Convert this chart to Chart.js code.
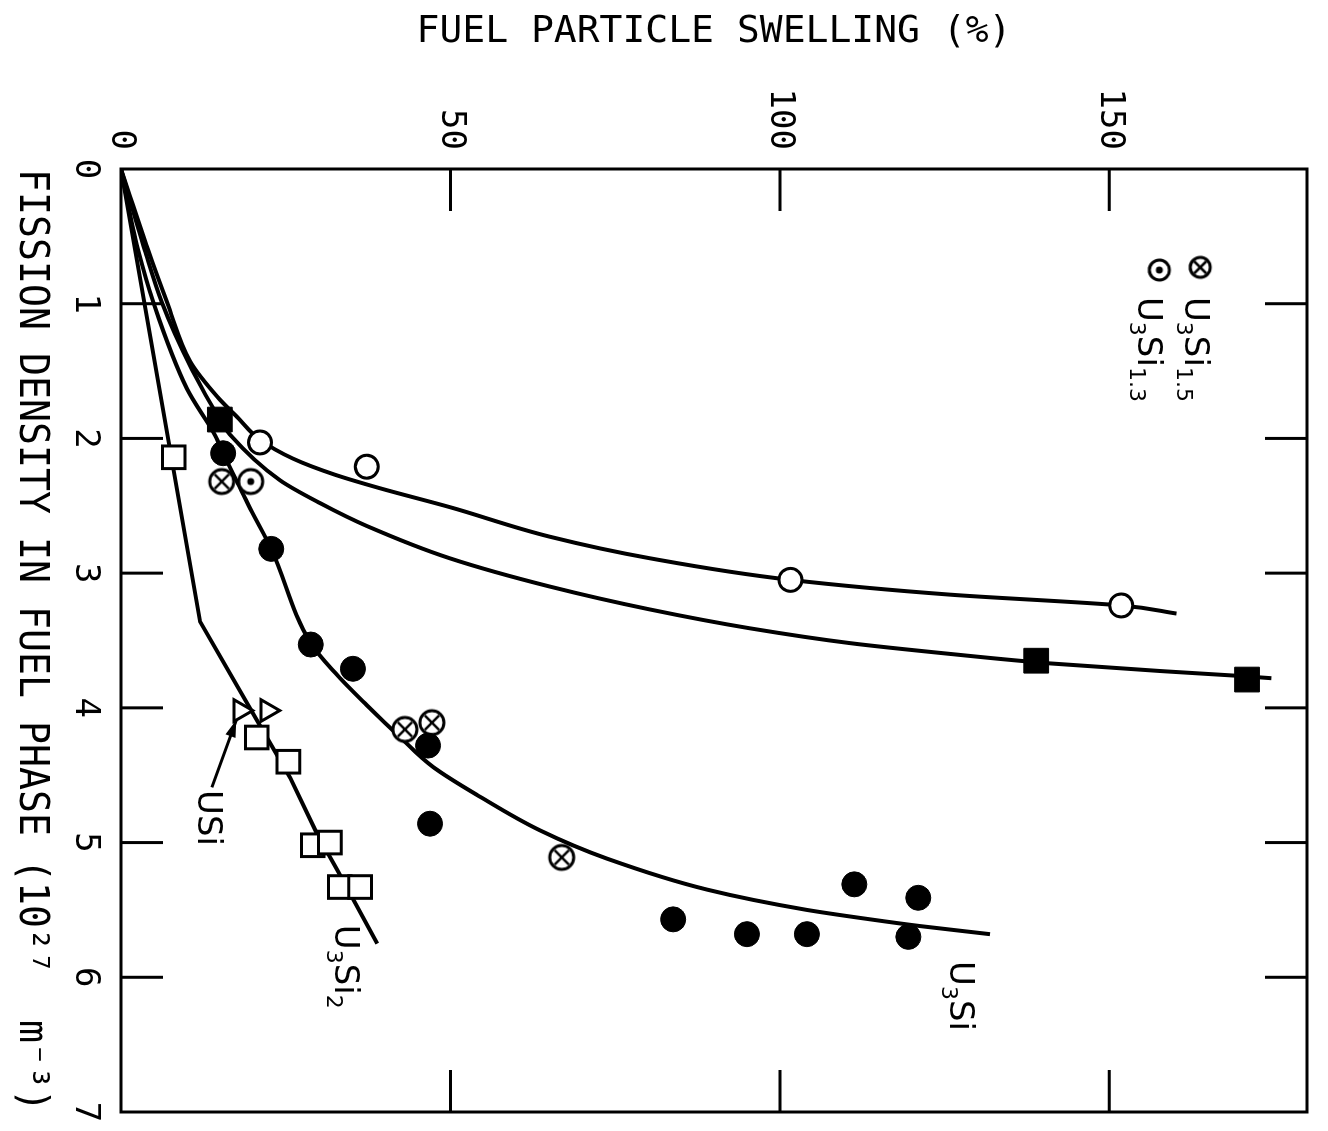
<!DOCTYPE html>
<html>
<head>
<meta charset="utf-8">
<title>Fuel particle swelling vs fission density</title>
<script src="https://cdn.jsdelivr.net/npm/chart.js@4.4.1/dist/chart.umd.min.js"></script>
<style>
  html, body { margin: 0; padding: 0; background: #fff; overflow: hidden; }
  #wrap { position: relative; width: 1328px; height: 1131px; overflow: hidden; background: #fff; }
  /* the figure is printed turned a quarter turn clockwise, so draw it upright and turn the canvas */
  #chart { position: absolute; left: 0; top: 0; transform-origin: 0 0; transform: translate(1328px, 0) rotate(90deg); }
</style>
</head>
<body>
<div id="wrap"><canvas id="chart" width="1131" height="1328"></canvas></div>
<script>
// values: fission density (10^27 m^-3) and swelling (%)
const u3siFission  = [2.11, 2.82, 3.53, 3.71, 4.28, 4.86, 5.57, 5.68, 5.68, 5.31, 5.41, 5.70];
const u3siSwelling = [15.5, 22.8, 28.8, 35.2, 46.6, 46.9, 83.8, 95.0, 104.1, 111.3, 121.0, 119.5];

const u3si15Fission  = [2.32, 4.16, 4.11, 5.11];
const u3si15Swelling = [15.3, 43.1, 47.2, 66.9];

const u3si13Fission  = [2.32];
const u3si13Swelling = [19.7];

const u3si2Fission  = [2.14, 4.22, 4.40, 5.02, 5.00, 5.33, 5.33];
const u3si2Swelling = [8.0, 20.6, 25.4, 29.1, 31.7, 33.2, 36.3];

const usiFission  = [4.02, 4.02];
const usiSwelling = [18.1, 22.2];

const openCircleFission  = [2.03, 2.21, 3.05, 3.24];
const openCircleSwelling = [21.1, 37.3, 101.6, 151.8];

const filledSquareFission  = [1.86, 3.65, 3.79];
const filledSquareSwelling = [15.0, 138.9, 170.9];

// hand drawn fit curves
const openCircleCurveF = [0, 0.60, 0.99, 1.43, 1.69, 1.84, 2.01, 2.15, 2.27, 2.37, 2.51, 2.73, 2.89, 3.05, 3.16, 3.24, 3.30];
const openCircleCurveS = [0, 4.1, 7.0, 10.5, 14.6, 17.6, 21.1, 26.1, 32.5, 39.3, 49.9, 65.1, 80.3, 101.6, 125.9, 151.8, 160.2];

const filledSquareCurveF = [0, 0.60, 0.99, 1.49, 1.86, 1.97, 2.31, 2.48, 2.65, 2.89, 3.10, 3.27, 3.41, 3.52, 3.60, 3.67, 3.73, 3.76, 3.78];
const filledSquareCurveS = [0, 3.6, 6.2, 10.8, 15.0, 16.5, 24.1, 30.2, 37.3, 49.9, 65.1, 80.3, 95.5, 110.7, 125.9, 141.0, 158.8, 168.8, 174.6];

const u3siCurveF = [0, 0.60, 0.99, 1.63, 1.98, 2.11, 2.37, 2.52, 2.82, 3.52, 3.74, 3.98, 4.22, 4.44, 4.66, 4.91, 5.12, 5.35, 5.50, 5.57, 5.62, 5.68];
const u3siCurveS = [0, 2.6, 4.9, 10.0, 14.3, 15.5, 18.1, 19.6, 22.8, 28.8, 32.5, 37.3, 42.4, 47.4, 54.5, 63.6, 73.8, 89.0, 104.1, 113.7, 121.3, 131.9];

const u3si2CurveF = [0, 3.36, 4.09, 4.52, 4.94, 5.20, 5.75];
const u3si2CurveS = [0, 12.0, 20.6, 25.7, 29.8, 32.8, 38.9];

// axes
const fissionTicks = [1, 2, 3, 4, 5, 6];
const swellingTicks = [50, 100, 150];
const fissionRange = [0, 7];
const swellingRange = [0, 180];

const BLACK = "#000";
const MONO = "'DejaVu Sans Mono', monospace";
const SANS = "'DejaVu Sans', sans-serif";

function pts(xs, ys) {
  return xs.map((x, i) => ({ x: x, y: ys[i] }));
}

// circle symbols with a cross or a dot inside
function ringSymbol(kind, r) {
  const c = document.createElement("canvas");
  const size = 2 * r + 6;
  c.width = c.height = size;
  const g = c.getContext("2d");
  const m = size / 2;
  g.lineWidth = 3;
  g.strokeStyle = BLACK;
  g.fillStyle = "#fff";
  g.beginPath();
  g.arc(m, m, r, 0, Math.PI * 2);
  g.fill();
  g.stroke();
  if (kind === "cross") {
    const d = r * 0.6;
    g.lineWidth = 2.5;
    g.beginPath();
    g.moveTo(m - d, m - d); g.lineTo(m + d, m + d);
    g.moveTo(m + d, m - d); g.lineTo(m - d, m + d);
    g.stroke();
  } else {
    g.fillStyle = BLACK;
    g.beginPath();
    g.arc(m, m, 3.5, 0, Math.PI * 2);
    g.fill();
  }
  return c;
}

const crossSym = ringSymbol("cross", 12);
const dotSym = ringSymbol("dot", 12);
const crossSymSmall = ringSymbol("cross", 10);
const dotSymSmall = ringSymbol("dot", 10);

function curve(label, xs, ys, smooth) {
  return {
    label: label,
    data: pts(xs, ys),
    showLine: true,
    pointRadius: 0,
    borderColor: BLACK,
    borderWidth: 4,
    cubicInterpolationMode: smooth ? "monotone" : "default",
    tension: 0,
    order: 10
  };
}

function marks(label, xs, ys, style, radius, filled) {
  return {
    label: label,
    data: pts(xs, ys),
    showLine: false,
    pointStyle: style,
    pointRadius: radius,
    pointBackgroundColor: filled ? BLACK : "#fff",
    pointBorderColor: BLACK,
    pointBorderWidth: filled ? 1 : 3,
    order: 1
  };
}

// text with subscripts, placed at a data position
function subText(ctx, x, y, f, s, parts) {
  let px = x.getPixelForValue(f);
  const py = y.getPixelForValue(s);
  parts.forEach(([t, sub]) => {
    ctx.font = (sub ? "22px " : "34px ") + SANS;
    ctx.fillText(t, px, sub ? py + 8 : py);
    px += ctx.measureText(t).width;
  });
}

// scales keep no extra room for their end labels, the layout padding sets the frame
function noEdgePadding(scale) {
  scale.paddingTop = 0;
  scale.paddingBottom = 0;
  scale.paddingLeft = 0;
  scale.paddingRight = 0;
}

const figureInk = {
  id: "figureInk",
  beforeDatasetsDraw(chart) {
    const { ctx, chartArea: a, scales: { x, y } } = chart;
    ctx.save();
    ctx.strokeStyle = BLACK;
    ctx.lineWidth = 3;
    ctx.strokeRect(a.left, a.top, a.right - a.left, a.bottom - a.top);
    ctx.beginPath();
    fissionTicks.forEach(v => {
      const px = x.getPixelForValue(v);
      ctx.moveTo(px, a.bottom); ctx.lineTo(px, a.bottom - 42);
      ctx.moveTo(px, a.top); ctx.lineTo(px, a.top + 42);
    });
    swellingTicks.forEach(v => {
      const py = y.getPixelForValue(v);
      ctx.moveTo(a.left, py); ctx.lineTo(a.left + 42, py);
      ctx.moveTo(a.right, py); ctx.lineTo(a.right - 42, py);
    });
    ctx.stroke();
    ctx.restore();
  },
  afterDatasetsDraw(chart) {
    const { ctx, scales: { x, y } } = chart;
    ctx.save();
    ctx.fillStyle = BLACK;
    ctx.strokeStyle = BLACK;
    ctx.textAlign = "left";
    ctx.textBaseline = "alphabetic";

    subText(ctx, x, y, 5.88, 125.8, [["U"], ["3", 1], ["Si"]]);
    subText(ctx, x, y, 5.61, 32.5, [["U"], ["3", 1], ["Si"], ["2", 1]]);
    subText(ctx, x, y, 4.61, 11.7, [["USi"]]);

    // arrow from the USi label to the triangles
    const tx = x.getPixelForValue(4.59), ty = y.getPixelForValue(13.8);
    const hx = x.getPixelForValue(4.09), hy = y.getPixelForValue(17.5);
    const ang = Math.atan2(hy - ty, hx - tx);
    ctx.lineWidth = 3;
    ctx.beginPath();
    ctx.moveTo(tx, ty);
    ctx.lineTo(hx, hy);
    ctx.stroke();
    ctx.beginPath();
    ctx.moveTo(hx, hy);
    ctx.lineTo(hx - 18 * Math.cos(ang - 0.3), hy - 18 * Math.sin(ang - 0.3));
    ctx.lineTo(hx - 18 * Math.cos(ang + 0.3), hy - 18 * Math.sin(ang + 0.3));
    ctx.closePath();
    ctx.fill();

    // key in the corner
    const k1x = x.getPixelForValue(0.73), k1y = y.getPixelForValue(163.8);
    ctx.drawImage(crossSymSmall, k1x - crossSymSmall.width / 2, k1y - crossSymSmall.height / 2);
    subText(ctx, x, y, 0.95, 161.5, [["U"], ["3", 1], ["Si"], ["1.5", 1]]);
    const k2x = x.getPixelForValue(0.75), k2y = y.getPixelForValue(157.6);
    ctx.drawImage(dotSymSmall, k2x - dotSymSmall.width / 2, k2y - dotSymSmall.height / 2);
    subText(ctx, x, y, 0.95, 154.4, [["U"], ["3", 1], ["Si"], ["1.3", 1]]);
    ctx.restore();
  }
};

Chart.defaults.font.family = MONO;
Chart.defaults.color = BLACK;

new Chart(document.getElementById("chart"), {
  type: "scatter",
  data: {
    datasets: [
      curve("U3Si2 fit", u3si2CurveF, u3si2CurveS, false),
      curve("U3Si fit", u3siCurveF, u3siCurveS, true),
      curve("filled square fit", filledSquareCurveF, filledSquareCurveS, true),
      curve("open circle fit", openCircleCurveF, openCircleCurveS, true),
      marks("U3Si", u3siFission, u3siSwelling, "circle", 12.5, true),
      marks("U3Si1.5", u3si15Fission, u3si15Swelling, crossSym, 12, false),
      marks("U3Si1.3", u3si13Fission, u3si13Swelling, dotSym, 12, false),
      marks("U3Si2", u3si2Fission, u3si2Swelling, "rect", 16, false),
      marks("USi", usiFission, usiSwelling, "triangle", 12.5, false),
      marks("open circles", openCircleFission, openCircleSwelling, "circle", 11.5, false),
      marks("filled squares", filledSquareFission, filledSquareSwelling, "rect", 17.5, true)
    ]
  },
  options: {
    responsive: false,
    animation: false,
    devicePixelRatio: 1,
    layout: { padding: { top: 21, right: 15, left: 0, bottom: 0 } },
    plugins: { legend: { display: false }, tooltip: { enabled: false } },
    scales: {
      x: {
        type: "linear",
        position: "bottom",
        min: fissionRange[0],
        max: fissionRange[1],
        grid: { display: false, drawTicks: false },
        border: { display: false },
        ticks: { stepSize: 1, maxRotation: 0, autoSkip: false, padding: 16, color: BLACK, font: { size: 34, family: MONO } },
        title: {
          display: true,
          text: "FISSION DENSITY IN FUEL PHASE (10²⁷  m⁻³)",
          color: BLACK,
          font: { size: 40, family: MONO },
          padding: { top: 0, bottom: 6 }
        },
        afterFit(scale) {
          scale.height = 121;
          noEdgePadding(scale);
        }
      },
      y: {
        type: "linear",
        position: "left",
        min: swellingRange[0],
        max: swellingRange[1],
        grid: { display: false, drawTicks: false },
        border: { display: false },
        ticks: { stepSize: 50, includeBounds: false, autoSkip: false, padding: 19, color: BLACK, font: { size: 34, family: MONO } },
        title: {
          display: true,
          text: "FUEL PARTICLE SWELLING (%)",
          color: BLACK,
          font: { size: 38, family: MONO },
          padding: { top: 9, bottom: 0 }
        },
        afterFit(scale) {
          scale.width = 169;
          noEdgePadding(scale);
        }
      }
    }
  },
  plugins: [figureInk]
});
</script>
</body>
</html>
